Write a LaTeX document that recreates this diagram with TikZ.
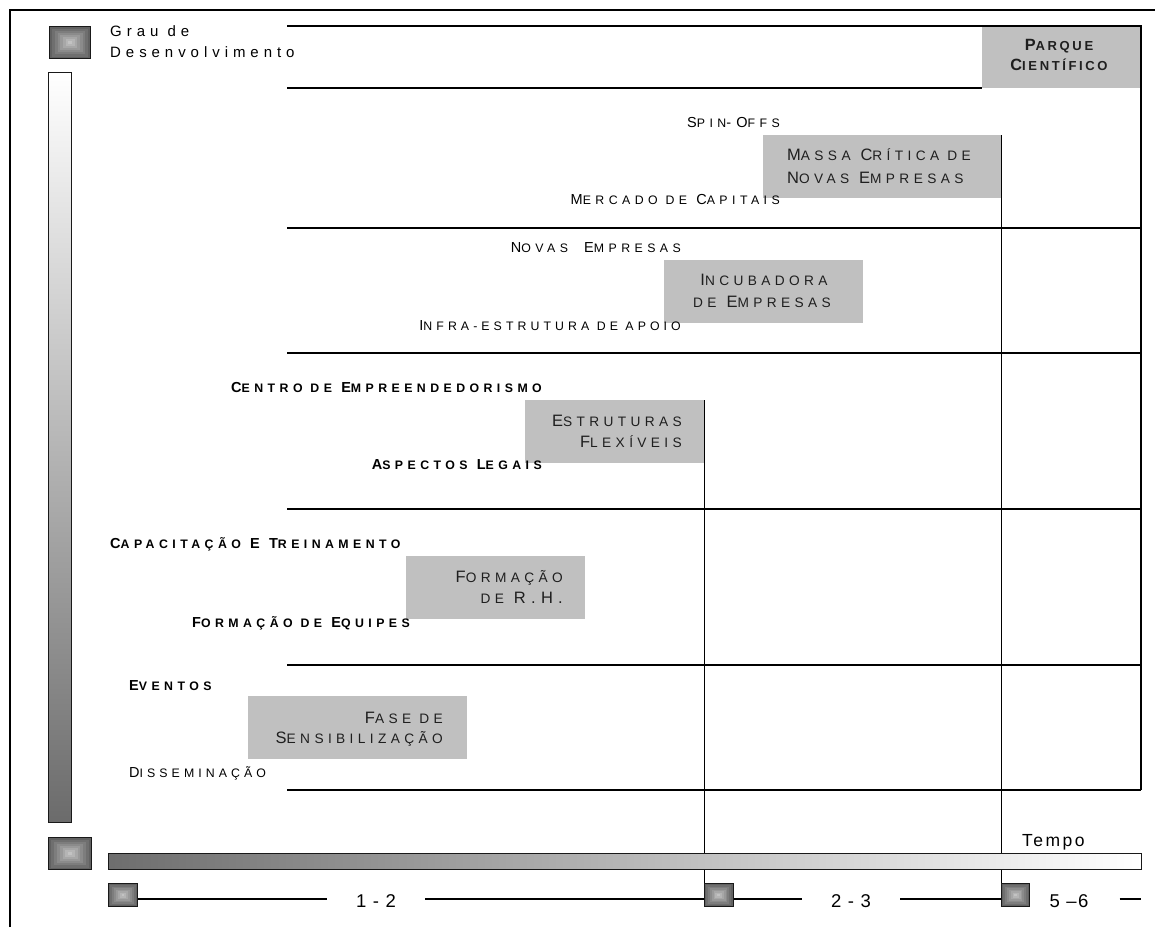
\documentclass[tikz,border=0pt]{standalone}
\usepackage{fontspec}
\setmainfont{Liberation Sans}
\newfontfamily\lblf[LetterSpace=36]{Liberation Sans}
\newfontfamily\lbls[LetterSpace=36,Scale=0.85]{Liberation Sans}
\newfontfamily\lblt[LetterSpace=33,Scale=0.85]{Liberation Sans}
\newfontfamily\bxf[LetterSpace=32]{Liberation Sans}
\newfontfamily\bxs[LetterSpace=32,Scale=0.83]{Liberation Sans}
\newfontfamily\pqf[LetterSpace=20]{Liberation Sans}
\newfontfamily\pqs[LetterSpace=20,Scale=0.8]{Liberation Sans}
\newfontfamily\grf[LetterSpace=33]{Liberation Sans}
\newfontfamily\tmf[LetterSpace=14]{Liberation Sans}
\newfontfamily\numf[LetterSpace=7]{Liberation Sans}
\newcommand\ls[1]{{\lbls #1}}
\newcommand\lt[1]{{\lblt #1}}
\newcommand\bs[1]{{\bxs #1}}
\newcommand\ps[1]{{\pqs #1}}
\usetikzlibrary{calc}
\definecolor{boxgray}{HTML}{C0C0C0}
\tikzset{
  ln/.style={line width=1.3pt, draw=black},
  box/.style={fill=boxgray, inner sep=0pt, anchor=north west},
  lab/.style={inner sep=0pt, anchor=base west, font=\fontsize{14.5}{17}\lblf},
  blab/.style={lab, font=\fontsize{14.5}{17}\lblf\bfseries},
  btxt/.style={inner sep=0pt, text=black!88, font=\fontsize{16.5}{20}\bxf},
  ptxt/.style={inner sep=0pt, anchor=base, text=black!88, font=\fontsize{16.3}{20}\pqf\bfseries},
  numlab/.style={inner ysep=0pt, inner xsep=29pt, anchor=base, font=\fontsize{18.5}{22}\numf},
  icon/.style={draw=black!90, line width=1.2pt, inner sep=0pt, anchor=north west,
    path picture={
      \foreach \i in {0,...,7}{
        \pgfmathsetmacro\f{0.065*\i}
        \pgfmathsetmacro\c{62-5.5*\i}
        \fill[black!\c] ($(path picture bounding box.south west)!\f!(path picture bounding box.north east)$)
          rectangle ($(path picture bounding box.north east)!\f!(path picture bounding box.south west)$);
      }}},
}
\begin{document}
\begin{tikzpicture}[x=1pt,y=-1pt]
\useasboundingbox (0,0) rectangle (1155,927);
% frame
\coordinate (fbl) at (10,927);
\coordinate (ftl) at (10,10);
\coordinate (ftr) at (1155,10);
\draw[ln] (fbl) -- (ftl) -- (ftr);

% grey boxes
\node[box, minimum width=159pt, minimum height=62pt] (parque) at (982,26) {};
\node[box, minimum width=238pt, minimum height=63pt] (massa) at (763,135) {};
\node[box, minimum width=199pt, minimum height=63pt] (incub) at (664,260) {};
\node[box, minimum width=179pt, minimum height=63pt] (estr) at (525,400) {};
\node[box, minimum width=179pt, minimum height=63pt] (form) at (406,556) {};
\node[box, minimum width=219pt, minimum height=63pt] (fase) at (248,696) {};

% bottom axis icons and labels
\node[icon, minimum width=29pt, minimum height=23pt] (ic1) at (108,883) {};
\node[icon, minimum width=29pt, minimum height=23pt] (ic2) at (703.5,883) {};
\node[icon, minimum width=28pt, minimum height=23pt] (ic3) at (1001,883) {};
\node[numlab] (n12) at (376,907) {1 - 2};
\node[numlab] (n23) at (851,907) {2 - 3};
\node[numlab, inner xsep=31pt] (n56) at (1069,907) {5 –6};

% grid lines
\coordinate (g1a) at (287,26);  \coordinate (g1b) at (1141,26);
\coordinate (g2a) at (287,88);  \coordinate (g2b) at (982,88);
\coordinate (g3a) at (287,228); \coordinate (g3b) at (1141,228);
\coordinate (g4a) at (287,353); \coordinate (g4b) at (1141,353);
\coordinate (g5a) at (287,509); \coordinate (g5b) at (1141,509);
\coordinate (g6a) at (287,665); \coordinate (g6b) at (1141,665);
\coordinate (g7a) at (287,790); \coordinate (g7b) at (1141,790);
\draw[ln] (g1a) -- (g1b) -- (g7b);
\draw[ln] (g2a) -- (g2b);
\draw[ln] (g3a) -- (g3b);
\draw[ln] (g4a) -- (g4b);
\draw[ln] (g5a) -- (g5b);
\draw[ln] (g6a) -- (g6b);
\draw[ln] (g7a) -- (g7b);
\draw[ln] (estr.north east) -- (estr.north east |- ic2.north);
\draw[ln] (massa.north east) -- (massa.north east |- ic3.north);

% axis line
\coordinate (ax) at (0,899);
\draw[ln] (ic1.east |- ax) -- (n12.west |- ax);
\draw[ln] (n12.east |- ax) -- (ic2.west |- ax);
\draw[ln] (ic2.east |- ax) -- (n23.west |- ax);
\draw[ln] (n23.east |- ax) -- (ic3.west |- ax);
\draw[ln] (n56.east |- ax) -- (1141,899);

% gradient bars
\node[draw=black!90, line width=1.2pt, inner sep=0pt, anchor=north west, minimum width=23pt, minimum height=750pt,
  top color=white, bottom color=black!58] (vbar) at (48,72) {};
\node[draw=black!90, line width=1.2pt, inner sep=0pt, anchor=north west, minimum width=1033pt, minimum height=16pt,
  left color=black!57, right color=white] (tbar) at (108,853) {};

% icons
\node[icon, minimum width=41pt, minimum height=32pt] (icg) at (49,26) {};
\node[icon, minimum width=43pt, minimum height=32pt] (ict) at (48,837) {};

% axis titles
\node[inner sep=0pt, anchor=base west, font=\fontsize{15}{18}\grf] (grau1) at (110,36) {Grau de};
\node[inner sep=0pt, anchor=base west, font=\fontsize{15}{18}\grf] (grau2) at (110,57) {Desenvolvimento};
\node[inner sep=0pt, anchor=base west, font=\fontsize{17.5}{20}\tmf] (tempo) at (1022,846) {Tempo};

% box texts
\node[ptxt] (pq1) at (1059,50) {P\ps{ARQUE}};
\node[ptxt] (pq2) at (1059,70) {C\ps{IENTÍFICO}};
\node[btxt, anchor=base west] (ma1) at (787,160) {M\bs{ASSA} C\bs{RÍTICA DE}};
\node[btxt, anchor=base west] (ma2) at (787,183) {N\bs{OVAS} E\bs{MPRESAS}};
\node[btxt, anchor=base] (in1) at (764,285) {I\bs{NCUBADORA}};
\node[btxt, anchor=base] (in2) at (762,307) {\bs{DE} E\bs{MPRESAS}};
\node[btxt, anchor=base east] (es1) at (682,426) {E\bs{STRUTURAS}};
\node[btxt, anchor=base east] (es2) at (682,447) {F\bs{LEXÍVEIS}};
\node[btxt, anchor=base east] (fo1) at (563,582) {F\bs{ORMAÇÃO}};
\node[btxt, anchor=base east] (fo2) at (563,603) {\bs{DE} R.H.};
\node[btxt, anchor=base east] (fa1) at (443,723) {F\bs{ASE DE}};
\node[btxt, anchor=base east] (fa2) at (443,743) {S\bs{ENSIBILIZAÇÃO}};

% side labels
\node[lab, anchor=base east] (spin) at (780,127) {S\ls{PIN}-O\ls{FFS}};
\node[lab, anchor=base east] (merc) at (780,204) {M\ls{ERCADO DE} C\ls{APITAIS}};
\node[lab, anchor=base east] (novas) at (681,252) {N\ls{OVAS}\hspace{7pt} E\ls{MPRESAS}};
\node[lab, anchor=base east] (infra) at (681,330) {I\lt{NFRA-ESTRUTURA DE APOIO}};
\node[blab, anchor=base east] (centro) at (542,392) {C\ls{ENTRO DE} E\ls{MPREENDEDORISMO}};
\node[blab, anchor=base east] (aspec) at (542,469) {A\ls{SPECTOS} L\ls{EGAIS}};
\node[blab] (capac) at (110,548) {C\ls{APACITAÇÃO} E T\ls{REINAMENTO}};
\node[blab, anchor=base east] (equip) at (410,627) {F\ls{ORMAÇÃO DE} E\ls{QUIPES}};
\node[blab] (event) at (129,690) {E\ls{VENTOS}};
\node[lab] (dissem) at (129,777) {D\lt{ISSEMINAÇÃO}};
\end{tikzpicture}
\end{document}
